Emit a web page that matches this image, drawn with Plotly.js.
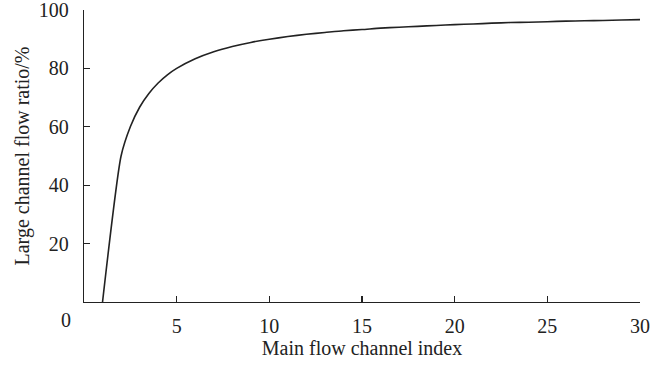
<!DOCTYPE html>
<html>
<head>
<meta charset="utf-8">
<script src="https://cdn.plot.ly/plotly-3.0.1.min.js"></script>
<style>html,body{margin:0;padding:0;background:#fff;}#chart{width:670px;height:365px;}</style>
</head>
<body>
<div id="chart"></div>
<script>
// Main flow channel index (x) and large channel flow ratio in % (y)
var channelIndex = [1, 2, 2.5, 3, 3.5, 4, 4.5, 5, 6, 7, 8, 9, 10, 11, 12, 13, 14, 15, 16, 17, 18, 19, 20, 21, 22, 23, 24, 25, 26, 27, 28, 29, 30];
var flowRatio =    [0, 50, 60, 66.7, 71.4, 75, 77.8, 80, 83.3, 85.7, 87.5, 88.9, 90, 90.9, 91.7, 92.3, 92.9, 93.3, 93.8, 94.1, 94.4, 94.7, 95, 95.2, 95.5, 95.7, 95.8, 96, 96.2, 96.3, 96.4, 96.6, 96.7];
var xTicks = [5, 10, 15, 20, 25, 30];
var yTicks = [20, 40, 60, 80, 100];

var font = {family: 'Liberation Serif, Times New Roman, serif', size: 20, color: '#222'};

var trace = {
  x: channelIndex,
  y: flowRatio,
  type: 'scatter',
  mode: 'lines',
  line: {color: '#222', width: 1.6, shape: 'spline', smoothing: 0.6},
  hoverinfo: 'none'
};

var layout = {
  width: 670,
  height: 365,
  margin: {l: 84, r: 30, t: 10, b: 63},
  paper_bgcolor: '#fff',
  plot_bgcolor: '#fff',
  showlegend: false,
  font: font,
  xaxis: {
    range: [0, 30],
    tickvals: xTicks,
    ticks: 'inside',
    ticklen: 6,
    tickwidth: 1.2,
    tickcolor: '#222',
    showline: true,
    linecolor: '#222',
    linewidth: 1.2,
    showgrid: false,
    zeroline: false,
    tickfont: font,
    ticklabeloverflow: 'allow',
    ticklabelstandoff: 6,
    title: {text: 'Main flow channel index', font: font, standoff: 1}
  },
  yaxis: {
    range: [0, 100],
    tickvals: yTicks,
    ticks: 'inside',
    ticklen: 6,
    tickwidth: 1.2,
    tickcolor: '#222',
    showline: true,
    linecolor: '#222',
    linewidth: 1.2,
    showgrid: false,
    zeroline: false,
    tickfont: font,
    ticklabeloverflow: 'allow',
    ticklabelstandoff: 10,
    title: {text: 'Large channel flow ratio/%', font: font, standoff: 3}
  },
  annotations: [{
    text: '0', xref: 'paper', yref: 'paper', x: 0, y: 0,
    xanchor: 'center', yanchor: 'middle', xshift: -18, yshift: -18,
    showarrow: false, font: font
  }]
};

Plotly.newPlot('chart', [trace], layout, {displayModeBar: false, staticPlot: true});
</script>
</body>
</html>
